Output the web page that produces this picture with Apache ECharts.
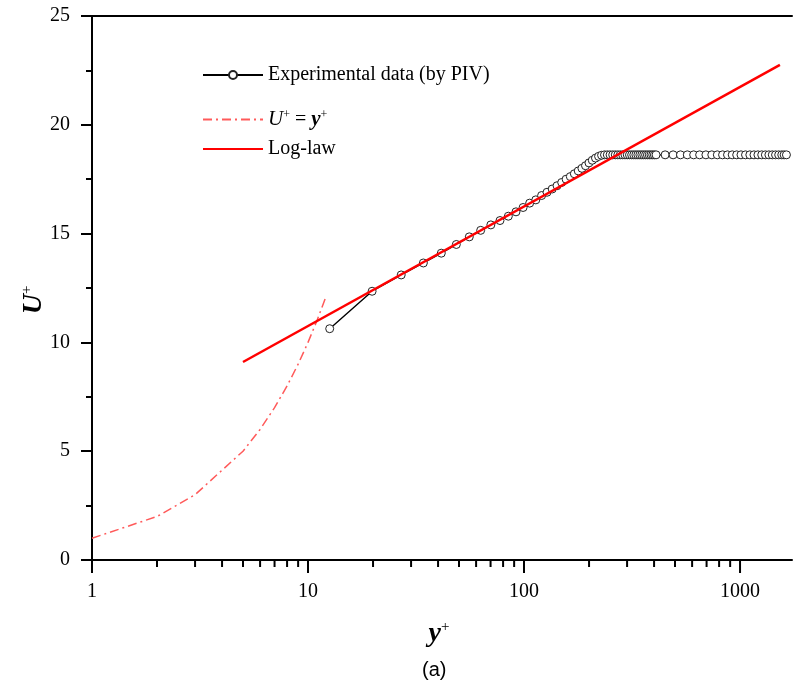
<!DOCTYPE html>
<html><head><meta charset="utf-8">
<script src="https://cdn.jsdelivr.net/npm/echarts@6/dist/echarts.min.js"></script>
<style>html,body{margin:0;padding:0;background:#fff}#c{width:795px;height:688px}</style>
</head><body><div id="c"></div>
<script>
// ---- data ----
const expX = [12.6, 19.8, 27.0, 34.2, 41.4, 48.6, 55.8, 63.0, 70.2, 77.4, 84.6, 91.8, 99.0, 106.2, 113.4, 120.6, 127.8, 135.0, 142.2, 149.4, 156.6, 163.8, 171.0, 178.2, 185.4, 192.6, 199.8, 207.0, 214.2, 221.4, 228.6, 235.8, 243.0, 250.2, 257.4, 264.6, 271.8, 279.0, 286.2, 293.4, 300.6, 307.8, 315.0, 322.2, 329.4, 336.6, 343.8, 351.0, 358.2, 365.4, 372.6, 379.8, 387.0, 394.2, 401.4, 408.6,
  450, 490, 530, 570, 610, 650, 695, 740, 785, 830, 875, 920, 965, 1010, 1060, 1110, 1160, 1210, 1260, 1310, 1360, 1410, 1460, 1510, 1560, 1600, 1640];
const expU = [10.63, 12.35, 13.1, 13.65, 14.1, 14.5, 14.85, 15.15, 15.4, 15.6, 15.8, 16.0, 16.2, 16.4, 16.55, 16.75, 16.9, 17.05, 17.2, 17.35, 17.5, 17.62, 17.75, 17.88, 18.0, 18.12, 18.25, 18.37, 18.47, 18.55, 18.6, 18.62, 18.62, 18.62, 18.62, 18.62, 18.62, 18.62, 18.62, 18.62, 18.62, 18.62, 18.62, 18.62, 18.62, 18.62, 18.62, 18.62, 18.62, 18.62, 18.62, 18.62, 18.62, 18.62, 18.62, 18.62,
  18.62, 18.62, 18.62, 18.62, 18.62, 18.62, 18.62, 18.62, 18.62, 18.62, 18.62, 18.62, 18.62, 18.62, 18.62, 18.62, 18.62, 18.62, 18.62, 18.62, 18.62, 18.62, 18.62, 18.62, 18.62, 18.62, 18.62];
const linX = [1, 2, 3, 5, 6, 7, 8, 9, 10, 11, 12];
const linU = [1, 2, 3, 5, 6, 7, 8, 9, 10, 11, 12];
const logLawX = [5, 1530];
const logLawU = [9.1, 22.75];
const xMajorTicks = [1, 10, 100, 1000];
const xMinorTicks = [2, 3, 4, 5, 6, 7, 8, 9, 20, 30, 40, 50, 60, 70, 80, 90, 200, 300, 400, 500, 600, 700, 800, 900];
const xTickLabels = {1: '1', 10: '10', 100: '100', 1000: '1000'};
const seriesNames = ['Experimental data (by PIV)', 'U+ = y+', 'Log-law'];

const SERIF = "'Liberation Serif','Times New Roman',serif";
const chart = echarts.init(document.getElementById('c'), null, {renderer: 'canvas'});

const legendBase = {
  orient: 'horizontal', left: 202, padding: 0, itemWidth: 60, itemHeight: 10,
  selectedMode: false,
  textStyle: {fontFamily: SERIF, fontSize: 20, color: '#000',
    rich: {
      i: {fontFamily: SERIF, fontSize: 21, fontStyle: 'italic', color: '#000'},
      bi: {fontFamily: SERIF, fontSize: 21, fontStyle: 'italic', fontWeight: 'bold', color: '#000'},
      n: {fontFamily: SERIF, fontSize: 20, color: '#000'},
      s: {fontFamily: SERIF, fontSize: 12, color: '#000', verticalAlign: 'top'}
    }
  },
  formatter: function (name) {
    if (name === seriesNames[1]) return '{i|U}{s|+}{n| = }{bi|y}{s|+}';
    return name;
  }
};

function tickSeries(values, len) {
  return {
    type: 'custom', silent: true, clip: false, z: 10,
    data: values.map(v => [v, 0]),
    renderItem: function (params, api) {
      const p = api.coord([api.value(0), 0]);
      return {type: 'line', shape: {x1: p[0], y1: p[1], x2: p[0], y2: p[1] + len},
        style: {stroke: '#000', lineWidth: 2}};
    }
  };
}

const option = {
  animation: false,
  backgroundColor: '#fff',
  grid: {left: 92, top: 16, right: 0, height: 544, show: false},
  legend: [
    Object.assign({}, legendBase, {data: [seriesNames[0]], top: 65}),
    Object.assign({}, legendBase, {data: [seriesNames[1]], top: 109, itemStyle: {opacity: 0}}),
    Object.assign({}, legendBase, {data: [seriesNames[2]], top: 139, itemStyle: {opacity: 0}})
  ],
  xAxis: [{
    type: 'log', logBase: 10, min: 1, max: 1740,
    axisLine: {onZero: false, lineStyle: {color: '#000', width: 2}},
    axisTick: {show: false},
    axisLabel: {margin: 22, color: '#000', fontFamily: SERIF, fontSize: 20,
      formatter: function (v) { const r = Math.round(v); return xTickLabels[r] || ''; }},
    splitLine: {show: false},
    name: '{b|y}{s|+}', nameLocation: 'middle', nameGap: 60, nameMoveOverlap: false,
    nameTextStyle: {padding: [0, 6, 0, 0], rich: {
      b: {fontFamily: SERIF, fontSize: 28, fontWeight: 'bold', fontStyle: 'italic', color: '#000'},
      s: {fontFamily: SERIF, fontSize: 15, color: '#000', verticalAlign: 'top'}}}
  }, {
    type: 'value', position: 'top', min: 0, max: 1,
    axisLine: {show: true, onZero: false, lineStyle: {color: '#000', width: 2}},
    axisTick: {show: false}, axisLabel: {show: false}, splitLine: {show: false}
  }],
  yAxis: {
    type: 'value', min: 0, max: 25, interval: 5,
    axisLine: {onZero: false, lineStyle: {color: '#000', width: 2}},
    axisTick: {length: 11, lineStyle: {color: '#000', width: 2}},
    minorTick: {show: true, splitNumber: 2, length: 6, lineStyle: {color: '#000', width: 2}},
    axisLabel: {margin: 22, color: '#000', fontFamily: SERIF, fontSize: 20},
    splitLine: {show: false}, minorSplitLine: {show: false},
    name: '{b|U}{s|+}', nameLocation: 'middle', nameGap: 44, nameRotate: 90, nameMoveOverlap: false,
    nameTextStyle: {padding: [0, 24, 0, 0], rich: {
      b: {fontFamily: SERIF, fontSize: 28, fontWeight: 'bold', fontStyle: 'italic', color: '#000'},
      s: {fontFamily: SERIF, fontSize: 15, color: '#000', verticalAlign: 'top'}}}
  },
  graphic: [{
    type: 'text', x: 422, y: 670,
    style: {text: '(a)', font: "20px 'Liberation Sans', Arial, sans-serif", fill: '#000', align: 'left', verticalAlign: 'middle'}
  }],
  series: [
    {
      name: seriesNames[1], type: 'line', symbol: 'none', z: 2,
      data: linX.map((x, i) => [x, linU[i]]),
      lineStyle: {color: '#ff5a5a', width: 1.5, type: [9, 4, 2, 4]},
      itemStyle: {color: '#ff5a5a'}
    },
    {
      name: seriesNames[0], type: 'line', symbol: 'circle', symbolSize: 8, showAllSymbol: true, z: 3,
      data: expX.map((x, i) => [x, expU[i]]),
      lineStyle: {color: '#000', width: 1.4},
      itemStyle: {color: '#fff', borderColor: '#222', borderWidth: 1}
    },
    {
      name: seriesNames[2], type: 'line', symbol: 'none', z: 4,
      data: logLawX.map((x, i) => [x, logLawU[i]]),
      lineStyle: {color: '#ff0000', width: 2.5},
      itemStyle: {color: '#ff0000'}
    },
    Object.assign(tickSeries(xMajorTicks, 13), {name: 'majorTicks'}),
    Object.assign(tickSeries(xMinorTicks, 7), {name: 'minorTicks'})
  ]
};
chart.setOption(option);
</script>
</body></html>
